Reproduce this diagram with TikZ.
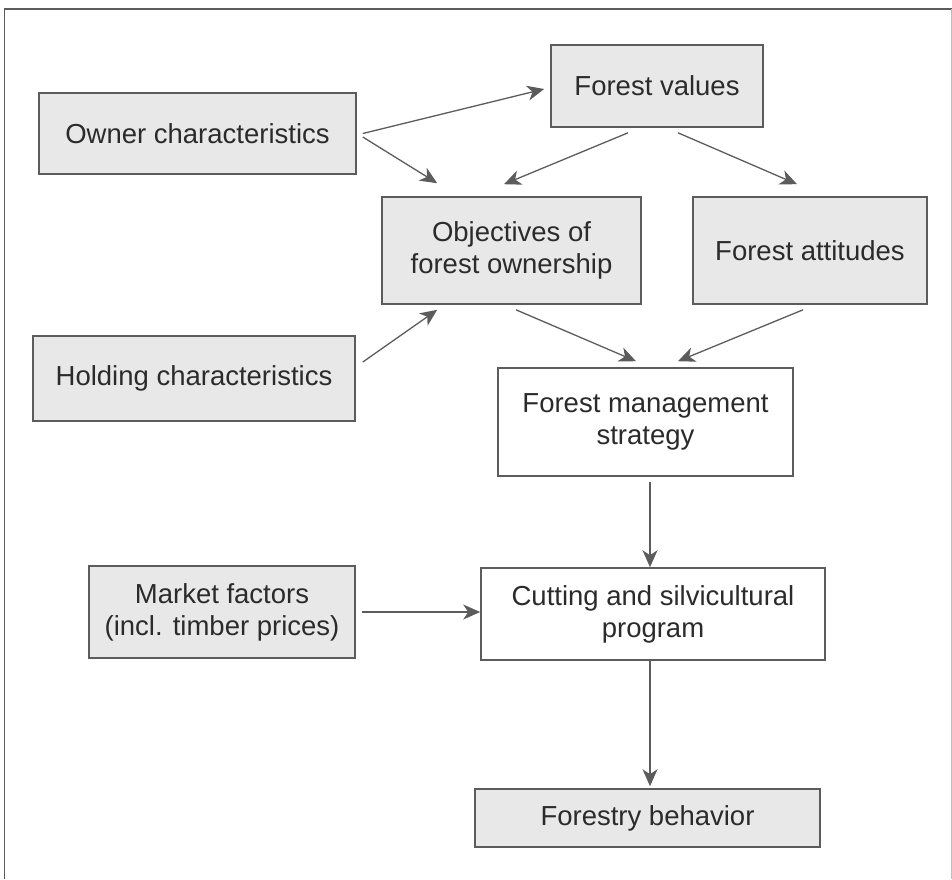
\documentclass[tikz,border=0pt]{standalone}
\usepackage{fontspec}
\setmainfont{Liberation Sans}
\usetikzlibrary{arrows.meta}

\definecolor{boxfill}{gray}{0.91}
\definecolor{lineclr}{gray}{0.36}
\definecolor{textclr}{gray}{0.17}

\begin{document}
\begin{tikzpicture}[x=1pt,y=-1pt,
		greybox/.style={draw=lineclr, line width=1.6pt, fill=boxfill, inner sep=0pt, align=center, text=textclr, font=\fontsize{27.5}{32}\selectfont},
		whitebox/.style={greybox, fill=white},
		flow/.style={draw=lineclr, line width=1.3pt, -{Stealth[length=17pt,width=15pt,inset=5pt]}}]
		% Page size and outer frame
		\useasboundingbox (0,0) rectangle (952,879);
		\draw[lineclr, line width=1.5pt] (4.5,879) -- (4.5,9) -- (952,9);
		\draw[lineclr!40, line width=1pt] (951,9) -- (951,879);
		
		% Boxes of the upper part
		\node[greybox, minimum width=212pt, minimum height=82pt] (FV) at (657,86) {Forest values};
		\node[greybox, minimum width=317pt, minimum height=81pt] (OC) at (197.5,133.5) {Owner characteristics};
		\node[greybox, minimum width=259pt, minimum height=107pt] (OBJ) at (511.5,250.5) {Objectives of\\forest ownership};
		\node[greybox, minimum width=234pt, minimum height=107pt] (FA) at (810,250.5) {Forest attitudes};
		\node[greybox, minimum width=322pt, minimum height=85pt] (HC) at (194,378.5) {Holding characteristics};
		
		% Boxes of the lower part
		\node[whitebox, minimum width=295pt, minimum height=108pt] (FMS) at (645.5,422) {Forest management\\strategy};
		\node[greybox, minimum width=266pt, minimum height=92pt] (MF) at (222,612) {Market factors\\(incl. timber prices)};
		\node[whitebox, minimum width=344pt, minimum height=92pt] (CSP) at (653,614) {Cutting and silvicultural\\program};
		\node[greybox, minimum width=345pt, minimum height=58pt] (FB) at (647.5,818) {Forestry behavior};
		
		% Arrows from owner characteristics
		\draw[flow] ([xshift=6pt]OC.east) -- ([xshift=-6pt,yshift=-3pt]FV.west);
		\draw[flow] ([xshift=6pt,yshift=-3.5pt]OC.east) -- ([xshift=56pt,yshift=13pt]OBJ.north west);
		
		% Arrows from forest values
		\draw[flow] ([xshift=-29pt,yshift=-5pt]FV.south) -- ([xshift=-7.5pt,yshift=12pt]OBJ.north);
		\draw[flow] ([xshift=21pt,yshift=-5pt]FV.south) -- ([xshift=-13pt,yshift=12pt]FA.north);
		
		% Arrow from holding characteristics
		\draw[flow] ([xshift=7pt,yshift=16.5pt]HC.east) -- ([xshift=56pt,yshift=-5pt]OBJ.south west);
		
		% Arrows into the management strategy
		\draw[flow] ([xshift=4.5pt,yshift=-5pt]OBJ.south) -- ([xshift=-9.5pt,yshift=6pt]FMS.north);
		\draw[flow] ([xshift=-7pt,yshift=-5pt]FA.south) -- ([xshift=32.5pt,yshift=6pt]FMS.north);
		
		% Arrows into the cutting program and down to behavior
		\draw[flow] ([xshift=4.5pt,yshift=-5pt]FMS.south) -- ([xshift=-3pt]CSP.north);
		\draw[flow] ([xshift=6pt]MF.east) -- (MF.east -| CSP.west);
		\draw[flow] ([xshift=-3pt]CSP.south) -- ([xshift=2.5pt,yshift=2pt]FB.north);
	\end{tikzpicture}
\end{document}
